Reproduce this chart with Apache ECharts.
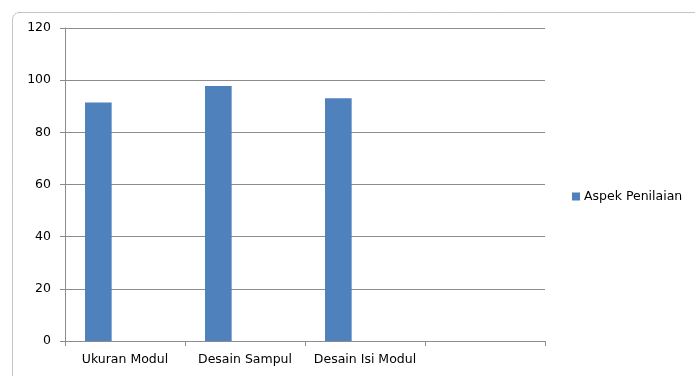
<!DOCTYPE html>
<html>
<head>
<meta charset="utf-8">
<script src="https://cdn.jsdelivr.net/npm/echarts@6/dist/echarts.min.js"></script>
<style>
html,body{margin:0;padding:0;background:#fff;}
#c{width:695px;height:376px;}
</style>
</head>
<body>
<div id="c"></div>
<script>
const categories = ['Ukuran Modul', 'Desain Sampul', 'Desain Isi Modul', ''];
const aspekPenilaian = [91.4, 97.8, 93.1, null];
const emptySeriesA = [null, null, null, null];
const emptySeriesB = [null, null, null, null];
const yTicks = { min: 0, max: 120, interval: 20 };

const chart = echarts.init(document.getElementById('c'), null, { renderer: 'canvas' });
const font = 'DejaVu Sans';
chart.setOption({
  animation: false,
  backgroundColor: '#ffffff',
  grid: { left: 65, right: 150, top: 28, bottom: 35 },
  graphic: [
    { type: 'rect', shape: { x: 12.5, y: 12.5, width: 700, height: 400, r: [7, 0, 0, 0] },
      style: { fill: 'none', stroke: '#8a8a8a', lineWidth: 1, lineDash: [1, 1] }, silent: true, z: -1 }
  ],
  legend: {
    data: ['Aspek Penilaian'],
    left: 572, top: 190, padding: 0,
    itemWidth: 8, itemHeight: 8, itemGap: 4,
    icon: 'rect',
    textStyle: { fontFamily: font, fontSize: 12.5, color: '#000', padding: [0, 0, 0, -1] }
  },
  xAxis: {
    type: 'category',
    data: categories,
    axisLine: { lineStyle: { color: '#8c8c8c', width: 1 } },
    axisTick: { show: true, length: 5, lineStyle: { color: '#8c8c8c' } },
    axisLabel: { fontFamily: font, fontSize: 12.5, color: '#000', margin: 12, interval: 0 },
    splitLine: { show: false }
  },
  yAxis: {
    type: 'value',
    min: yTicks.min, max: yTicks.max, interval: yTicks.interval,
    axisLine: { show: true, lineStyle: { color: '#8c8c8c', width: 1 } },
    axisTick: { show: true, length: 5, lineStyle: { color: '#8c8c8c' } },
    axisLabel: { fontFamily: font, fontSize: 12.5, color: '#000', margin: 14 },
    splitLine: { show: true, lineStyle: { color: '#8c8c8c', width: 1 } }
  },
  series: [
    { name: 'Aspek Penilaian', type: 'bar', data: aspekPenilaian, barGap: '0%', barCategoryGap: '33.33%',
      itemStyle: { color: '#4f81bd' } },
    { name: 'Series 2', type: 'bar', data: emptySeriesA, itemStyle: { color: '#c0504d' } },
    { name: 'Series 3', type: 'bar', data: emptySeriesB, itemStyle: { color: '#9bbb59' } }
  ]
});
</script>
</body>
</html>
